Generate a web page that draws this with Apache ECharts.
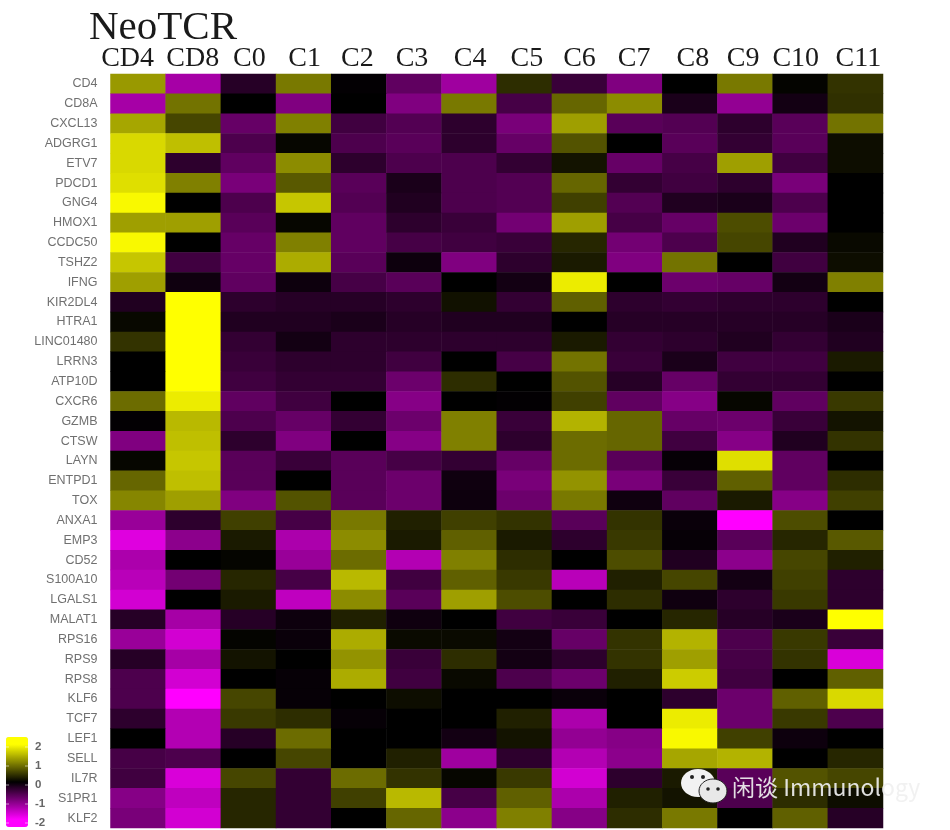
<!DOCTYPE html>
<html><head><meta charset="utf-8">
<script src="https://cdn.jsdelivr.net/npm/echarts@6/dist/echarts.min.js"></script>
<style>html,body{margin:0;padding:0;background:#fff}#c{width:950px;height:830px}</style>
</head><body><div id="c"></div>
<script>
const columns=['CD4','CD8','C0','C1','C2','C3','C4','C5','C6','C7','C8','C9','C10','C11'];
const genes=['CD4','CD8A','CXCL13','ADGRG1','ETV7','PDCD1','GNG4','HMOX1','CCDC50','TSHZ2','IFNG','KIR2DL4','HTRA1','LINC01480','LRRN3','ATP10D','CXCR6','GZMB','CTSW','LAYN','ENTPD1','TOX','ANXA1','EMP3','CD52','S100A10','LGALS1','MALAT1','RPS16','RPS9','RPS8','KLF6','TCF7','LEF1','SELL','IL7R','S1PR1','KLF2'];
const rowCD4=[1.2,-1.3,-.3,.95,-.02,-.75,-1.25,.35,-.45,-1,0,.95,.03,.4];
const rowCD8A=[-1.3,.9,0,-1,0,-1,.95,-.55,.8,1.1,-.2,-1.15,-.15,.38];
const rowCXCL13=[1.3,.55,-.8,1,-.5,-.65,-.35,-.95,1.25,-.7,-.65,-.35,-.7,.9];
const rowADGRG1=[1.7,1.5,-.6,.05,-.6,-.7,-.35,-.8,.65,0,-.7,-.4,-.7,.1];
const rowETV7=[1.7,-.35,-.75,1.1,-.35,-.6,-.6,-.4,.15,-.8,-.55,1.25,-.5,.1];
const rowPDCD1=[1.75,1,-.95,.7,-.7,-.2,-.6,-.65,.8,-.4,-.5,-.35,-.95,0];
const rowGNG4=[1.95,0,-.6,1.55,-.65,-.25,-.6,-.65,.5,-.65,-.25,-.2,-.6,0];
const rowHMOX1=[1.25,1.25,-.7,.05,-.75,-.35,-.45,-.9,1.25,-.55,-.8,.6,-.85,0];
const rowCCDC50=[1.95,0,-.8,1,-.75,-.55,-.5,-.45,.3,-.9,-.6,.55,-.25,.07];
const rowTSHZ2=[1.55,-.5,-.8,1.35,-.7,-.1,-1,-.35,.2,-1,.9,0,-.5,.1];
const rowIFNG=[1.25,-.12,-.75,-.1,-.55,-.7,0,-.15,1.85,0,-.85,-.8,-.15,1];
const rowKIR2DL4=[-.25,2,-.35,-.3,-.3,-.35,.13,-.4,.75,-.35,-.4,-.35,-.35,0];
const rowHTRA1=[.06,2,-.25,-.25,-.2,-.3,-.25,-.25,0,-.3,-.3,-.3,-.3,-.2];
const rowLINC01480=[.4,2,-.4,-.15,-.35,-.35,-.35,-.35,.2,-.4,-.35,-.25,-.4,-.25];
const rowLRRN3=[0,2,-.45,-.35,-.35,-.5,0,-.55,.9,-.45,-.2,-.5,-.5,.2];
const rowATP10D=[0,2,-.5,-.4,-.4,-.85,.35,0,.65,-.3,-.8,-.4,-.4,0];
const rowCXCR6=[.85,1.85,-.75,-.5,0,-1.05,0,-.02,.5,-.75,-1.05,.05,-.75,.45];
const rowGZMB=[-.02,1.45,-.6,-.8,-.4,-.85,1,-.45,1.4,.8,-.8,-.85,-.45,.15];
const rowCTSW=[-1,1.5,-.35,-1,0,-1.05,1,-.35,.85,.8,-.5,-1.05,-.25,.4];
const rowLAYN=[.05,1.55,-.7,-.45,-.7,-.55,-.4,-.8,.85,-.7,-.05,1.75,-.75,0];
const rowENTPD1=[.8,1.5,-.7,0,-.7,-.85,-.12,-.95,1.15,-.95,-.45,.75,-.75,.35];
const rowTOX=[1.05,1.25,-1,.65,-.7,-.85,-.1,-.85,.95,-.12,-.75,.2,-1.05,.5];
const rowANXA1=[-1.2,-.35,.5,-.55,.95,.25,.5,.4,-.7,.4,-.08,-2,.6,0];
const rowEMP3=[-1.75,-1.1,.2,-1.35,1.1,.2,.75,.2,-.35,.45,-.05,-.7,.3,.7];
const rowCD52=[-1.35,0,.04,-1.2,.85,-1.4,1,.35,0,.6,-.25,-1.1,.55,.25];
const rowS100A10=[-1.45,-.9,.3,-.55,1.45,-.5,.75,.45,-1.45,.25,.55,-.15,.5,-.35];
const rowLGALS1=[-1.65,0,.2,-1.5,1.1,-.7,1.25,.6,0,.35,-.12,-.35,.45,-.35];
const rowMALAT1=[-.3,-1.3,-.3,-.1,.25,-.12,0,-.5,-.45,0,.3,-.3,-.2,2];
const rowRPS16=[-1.2,-1.65,.03,-.08,1.35,.08,.08,-.15,-.8,.4,1.4,-.6,.45,-.45];
const rowRPS9=[-.3,-1.3,.15,0,1.15,-.45,.35,-.15,-.35,.4,1.25,-.55,.4,-1.7];
const rowRPS8=[-.6,-1.65,0,-.05,1.35,-.5,.07,-.6,-.85,.25,1.6,-.5,0,.75];
const rowKLF6=[-.6,-2,.55,-.05,0,.1,0,0,-.08,0,-.35,-.85,.75,1.7];
const rowTCF7=[-.35,-1.4,.45,.35,-.05,0,0,.25,-1.35,0,1.85,-.85,.45,-.6];
const rowLEF1=[0,-1.4,-.3,.85,0,0,-.15,.15,-1.15,-1.05,1.95,.5,-.1,0];
const rowSELL=[-.55,-.6,0,.55,0,.25,-1.25,-.35,-1.4,-1.1,1.3,1.4,0,.3];
const rowIL7R=[-.5,-1.7,.55,-.4,.85,.4,.05,.45,-1.65,-.35,.2,-.7,.65,.55];
const rowS1PR1=[-1.05,-1.5,.3,-.4,.5,1.45,-.55,.75,-1.35,.25,.15,-.6,.35,.1];
const rowKLF2=[-.95,-1.65,.3,-.4,0,.8,-1.1,1,-1.05,.35,.95,0,.75,-.3];
const legendTicks=['2','1','0','-1','-2'];

const rows=[rowCD4,rowCD8A,rowCXCL13,rowADGRG1,rowETV7,rowPDCD1,rowGNG4,rowHMOX1,rowCCDC50,rowTSHZ2,rowIFNG,rowKIR2DL4,rowHTRA1,rowLINC01480,rowLRRN3,rowATP10D,rowCXCR6,rowGZMB,rowCTSW,rowLAYN,rowENTPD1,rowTOX,rowANXA1,rowEMP3,rowCD52,rowS100A10,rowLGALS1,rowMALAT1,rowRPS16,rowRPS9,rowRPS8,rowKLF6,rowTCF7,rowLEF1,rowSELL,rowIL7R,rowS1PR1,rowKLF2];
const cells=[];
rows.forEach((r,y)=>r.forEach((v,x)=>cells.push([x,y,v])));

// Column headers sit slightly off the cell centres in the original.
const headerShift=[-10.5,-.5,1,1,-1.5,-2,1,2.5,0,-.5,3,-2,-4.5,3];
const serif='"Liberation Serif","Times New Roman",serif';
const rich={};
headerShift.forEach((s,i)=>{
  rich['h'+i]={fontFamily:serif,fontSize:28,color:'#1a1a1a',
    padding:[0,s<0?-2*s:0,0,s>0?2*s:0]};
});
// 13 evenly spaced stops between -2.4 and 2.4: saturates beyond +-2.
const stops=['#ff00ff','#ff00ff','#cc00cc','#990099','#660066','#330033','#000000','#333300','#666600','#999900','#cccc00','#ffff00','#ffff00'];

const chart=echarts.init(document.getElementById('c'),null,{renderer:'canvas'});
chart.setOption({
  animation:false,
  backgroundColor:'#ffffff',
  title:{text:'NeoTCR',left:84,top:3,textStyle:{fontFamily:serif,fontSize:41,fontWeight:'normal',color:'#1a1a1a'}},
  grid:{left:110.5,right:67,top:74,bottom:2,containLabel:false},
  xAxis:{type:'category',position:'top',data:columns,
    axisLine:{show:false},axisTick:{show:false},splitLine:{show:false},splitArea:{show:false},
    axisLabel:{interval:0,margin:1,formatter:(v,i)=>`{h${i}|${v}}`,rich}},
  yAxis:{type:'category',inverse:true,data:genes,
    axisLine:{show:false},axisTick:{show:false},splitLine:{show:false},splitArea:{show:false},
    axisLabel:{interval:0,margin:13,padding:[4,0,0,0],fontFamily:'"Liberation Sans",Arial,sans-serif',fontSize:12.5,color:'#707070'}},
  visualMap:{type:'continuous',min:-2.4,max:2.4,calculable:false,realtime:false,hoverLink:false,
    left:6,top:737,itemWidth:22,itemHeight:90,text:['',''],showLabel:false,padding:0,
    inRange:{color:stops},seriesIndex:0,textStyle:{fontSize:1,color:'rgba(0,0,0,0)'}},
  series:[{type:'heatmap',data:cells,emphasis:{disabled:true},progressive:0,itemStyle:{borderWidth:0}}],
  graphic:[
    ...legendTicks.map((t,i)=>({type:'text',silent:true,x:35,y:747+19*i,
      style:{text:t,fontFamily:'"Liberation Sans",Arial,sans-serif',fontWeight:'bold',fontSize:11.5,fill:'#666',verticalAlign:'middle'}})),
    ...legendTicks.flatMap((t,i)=>[6,25].map(x=>({type:'rect',silent:true,shape:{x,y:746.5+19*i,width:3,height:1},style:{fill:'rgba(255,255,255,0.55)'},z:5}))),
    {type:'ellipse',silent:true,shape:{cx:698,cy:783,rx:17,ry:14},style:{fill:'#f2f2f2'},z:10},
    {type:'ellipse',silent:true,shape:{cx:713,cy:791,rx:14,ry:12},style:{fill:'#e8e8e8',stroke:'#222',lineWidth:1},z:11},
    {type:'circle',silent:true,shape:{cx:692,cy:777,r:2},style:{fill:'#222'},z:12},
    {type:'circle',silent:true,shape:{cx:703,cy:777,r:2},style:{fill:'#222'},z:12},
    {type:'circle',silent:true,shape:{cx:708,cy:789,r:1.8},style:{fill:'#222'},z:12},
    {type:'circle',silent:true,shape:{cx:718,cy:789,r:1.8},style:{fill:'#222'},z:12},
    {type:'text',silent:true,x:732,y:787,z:12,style:{text:'闲谈 Immunology',
      fontFamily:'"Noto Sans CJK SC","Noto Sans",sans-serif',fontSize:23,fill:'rgba(240,240,240,0.92)',verticalAlign:'middle'}}
  ]
});
</script></body></html>
